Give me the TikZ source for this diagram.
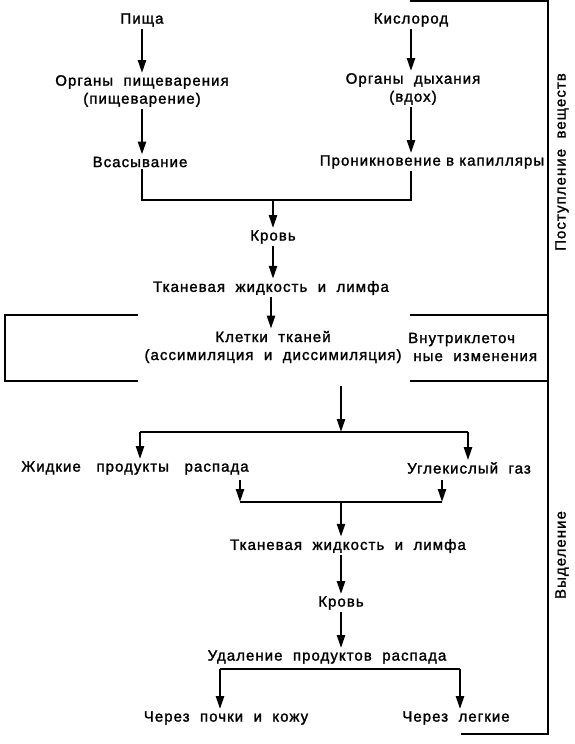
\documentclass[tikz,border=0pt]{standalone}
\usepackage{fontspec}
\setmainfont{Liberation Sans}[LetterSpace=7, FakeBold=1.6]
\usetikzlibrary{arrows.meta}
\begin{document}
\begin{tikzpicture}[x=1pt,y=-1pt,
  font=\fontsize{15}{18}\selectfont,
  lbl/.style={inner sep=2pt, align=center},
  arr/.style={line width=2.3pt,-{Triangle[length=13pt,width=8pt]}},
  ln/.style={line width=1.6pt}]
\useasboundingbox (0,0) rectangle (574,744);
% nodes
\node[lbl] (pisha) at (142,20) {Пища};
\node[lbl] (org1) at (142,91) {Органы\ \ пищеварения\\(пищеварение)};
\node[lbl] (vsas) at (140,162) {Всасывание};
\node[lbl] (kisl) at (411,20) {Кислород};
\node[lbl] (org2) at (413,89) {Органы\ \ дыхания\\(вдох)};
\node[lbl] (pronik) at (432,162) {Проникновение в капилляры};
\node[lbl] (krov1) at (273,237) {Кровь};
\node[lbl] (tkan1) at (271,288) {Тканевая\ \ жидкость\ \ и\ \ лимфа};
\node[lbl] (kletki) at (273,347) {Клетки\ \ тканей\\(ассимиляция\ \ и\ \ диссимиляция)};
\node[lbl, anchor=west, align=left] (vnutr) at (406,347) {Внутриклеточ\\\ ные\ \ изменения};
\node[lbl] (zhid) at (135,468) {Жидкие\ \ \ продукты\ \ \ распада};
\node[lbl] (ugl) at (469,468) {Углекислый\ \ газ};
\node[lbl] (tkan2) at (348,546) {Тканевая\ \ жидкость\ \ и\ \ лимфа};
\node[lbl] (krov2) at (341,603) {Кровь};
\node[lbl] (udal) at (327,657) {Удаление\ \ продуктов\ \ распада};
\node[lbl] (cher1) at (226,718) {Через\ \ почки\ \ и\ \ кожу};
\node[lbl] (cher2) at (456,718) {Через\ \ легкие};
\node[lbl, rotate=90] (post) at (562,162) {Поступление\ \ веществ};
\node[lbl, rotate=90] (vyd) at (562,555) {Выделение};
% coordinates
\coordinate (m1) at (142,200);
\coordinate (m2) at (411,200);
\coordinate (mc) at (273,200);
\coordinate (bt1) at (138,315);
\coordinate (bt0) at (5,315);
\coordinate (bb0) at (5,381);
\coordinate (bb1) at (138,381);
\coordinate (rt0) at (410,315);
\coordinate (rt1) at (548,315);
\coordinate (rb0) at (410,381);
\coordinate (rb1) at (548,381);
\coordinate (top0) at (410,1);
\coordinate (top1) at (548,1);
\coordinate (bot1) at (548,734);
\coordinate (bot0) at (461,734);
\coordinate (ks) at (341,386);
\coordinate (s1) at (341,432);
\coordinate (s1l) at (140,432);
\coordinate (s1r) at (468,432);
\coordinate (j0) at (240,480);
\coordinate (j1) at (442,480);
\coordinate (jl) at (240,502);
\coordinate (jr) at (442,502);
\coordinate (jc) at (341,502);
\coordinate (u0) at (220,669);
\coordinate (u1) at (460,669);
% connectors
\draw[arr] (pisha) -- (pisha |- org1.north);
\draw[arr] (org1) -- (org1 |- vsas.north);
\draw[arr] (kisl) -- (kisl |- org2.north);
\draw[arr] (m2 |- org2.south) -- (m2 |- pronik.north);
\draw[ln] (m1 |- vsas.south) -- (m1) -- (m2) -- (m2 |- pronik.south);
\draw[arr] (mc) -- (krov1);
\draw[arr] (krov1) -- (krov1 |- tkan1.north);
\draw[arr] (tkan1) -- (tkan1 |- kletki.north);
\draw[ln] (bt1) -- (bt0) -- (bb0) -- (bb1);
\draw[ln] (rt0) -- (rt1);
\draw[ln] (rb0) -- (rb1);
\draw[ln] (top0) -- (top1) -- (bot1) -- (bot0);
\draw[arr] (ks) -- (s1);
\draw[ln] (s1l) -- (s1r);
\draw[arr] (s1l) -- (s1l |- zhid.north);
\draw[arr] (s1r) -- (s1r |- ugl.north);
\draw[arr] (j0) -- (jl);
\draw[arr] (j1) -- (jr);
\draw[ln] (jl) -- (jr);
\draw[arr] (jc) -- (jc |- tkan2.north);
\draw[arr] (jc |- tkan2.south) -- (jc |- krov2.north);
\draw[arr] (jc |- krov2.south) -- (jc |- udal.north);
\draw[ln] (u0) -- (u1);
\draw[arr] (u0) -- (u0 |- cher1.north);
\draw[arr] (u1) -- (u1 |- cher2.north);
\end{tikzpicture}
\end{document}
